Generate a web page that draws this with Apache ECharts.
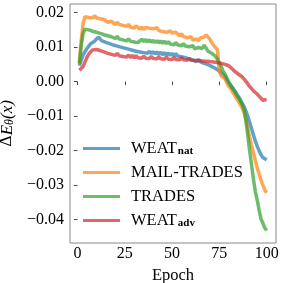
<!DOCTYPE html>
<html><head><meta charset="utf-8">
<script src="https://cdn.jsdelivr.net/npm/echarts@6/dist/echarts.min.js"></script>
<style>html,body{margin:0;padding:0;background:#fff}#c{width:282px;height:283px}</style>
</head><body><div id="c"></div>
<script>
const epochs = [1,2,3,4,5,6,7,8,9,10,11,12,13,14,15,16,17,18,19,20,21,22,23,24,25,26,27,28,29,30,31,32,33,34,35,36,37,38,39,40,41,42,43,44,45,46,47,48,49,50,51,52,53,54,55,56,57,58,59,60,61,62,63,64,65,66,67,68,69,70,71,72,73,74,75,76,77,78,79,80,81,82,83,84,85,86,87,88,89,90,91,92,93,94,95,96,97,98,99,100];
const weatNat = [0.0046,0.0062,0.0078,0.0087,0.0096,0.0103,0.0110,0.0106,0.0117,0.0121,0.0129,0.0124,0.0118,0.0123,0.0114,0.0119,0.0110,0.0114,0.0106,0.0111,0.0103,0.0108,0.0100,0.0105,0.0097,0.0102,0.0094,0.0099,0.0091,0.0096,0.0088,0.0093,0.0086,0.0091,0.0084,0.0089,0.0082,0.0088,0.0081,0.0087,0.0080,0.0086,0.0079,0.0085,0.0078,0.0084,0.0077,0.0083,0.0076,0.0082,0.0075,0.0081,0.0074,0.0079,0.0072,0.0077,0.0069,0.0074,0.0066,0.0071,0.0063,0.0067,0.0058,0.0064,0.0057,0.0061,0.0053,0.0056,0.0049,0.0050,0.0044,0.0046,0.0038,0.0037,0.0031,0.0026,0.0020,0.0014,0.0005,-0.0003,-0.0010,-0.0018,-0.0026,-0.0034,-0.0043,-0.0052,-0.0062,-0.0072,-0.0085,-0.0100,-0.0118,-0.0136,-0.0154,-0.0172,-0.0187,-0.0200,-0.0212,-0.0220,-0.0225,-0.0227];
const mailTrades = [0.0054,0.0120,0.0170,0.0188,0.0192,0.0186,0.0190,0.0184,0.0191,0.0185,0.0189,0.0182,0.0187,0.0180,0.0184,0.0172,0.0168,0.0175,0.0170,0.0165,0.0172,0.0166,0.0170,0.0163,0.0167,0.0160,0.0166,0.0158,0.0161,0.0155,0.0162,0.0157,0.0152,0.0158,0.0151,0.0157,0.0162,0.0155,0.0160,0.0153,0.0149,0.0156,0.0148,0.0153,0.0145,0.0150,0.0143,0.0139,0.0147,0.0141,0.0136,0.0143,0.0138,0.0132,0.0139,0.0131,0.0135,0.0127,0.0122,0.0130,0.0120,0.0116,0.0124,0.0118,0.0127,0.0132,0.0129,0.0135,0.0130,0.0123,0.0113,0.0105,0.0110,0.0092,0.0030,0.0016,0.0020,0.0008,-0.0004,-0.0014,-0.0020,-0.0030,-0.0038,-0.0048,-0.0057,-0.0066,-0.0076,-0.0088,-0.0108,-0.0134,-0.0160,-0.0184,-0.0206,-0.0228,-0.0250,-0.0268,-0.0285,-0.0300,-0.0314,-0.0322];
const trades = [0.0052,0.0105,0.0140,0.0152,0.0156,0.0150,0.0154,0.0146,0.0151,0.0143,0.0148,0.0140,0.0145,0.0136,0.0141,0.0133,0.0138,0.0130,0.0134,0.0125,0.0131,0.0124,0.0129,0.0121,0.0126,0.0118,0.0124,0.0117,0.0122,0.0115,0.0120,0.0113,0.0118,0.0123,0.0116,0.0122,0.0115,0.0121,0.0114,0.0120,0.0113,0.0119,0.0112,0.0118,0.0111,0.0117,0.0110,0.0116,0.0109,0.0114,0.0107,0.0113,0.0106,0.0111,0.0104,0.0110,0.0103,0.0108,0.0101,0.0096,0.0104,0.0095,0.0091,0.0099,0.0103,0.0096,0.0106,0.0097,0.0088,0.0090,0.0082,0.0080,0.0073,0.0064,0.0054,0.0044,0.0030,0.0022,0.0010,-0.0003,-0.0012,-0.0020,-0.0028,-0.0038,-0.0046,-0.0055,-0.0066,-0.0080,-0.0110,-0.0155,-0.0200,-0.0240,-0.0282,-0.0318,-0.0343,-0.0372,-0.0398,-0.0410,-0.0424,-0.0432];
const weatAdv = [0.0033,0.0036,0.0044,0.0057,0.0070,0.0080,0.0086,0.0092,0.0097,0.0093,0.0098,0.0090,0.0094,0.0086,0.0090,0.0082,0.0087,0.0079,0.0084,0.0076,0.0082,0.0075,0.0080,0.0073,0.0078,0.0071,0.0077,0.0070,0.0076,0.0069,0.0075,0.0069,0.0074,0.0068,0.0074,0.0068,0.0073,0.0067,0.0073,0.0067,0.0072,0.0066,0.0072,0.0066,0.0071,0.0065,0.0071,0.0065,0.0070,0.0064,0.0070,0.0064,0.0069,0.0063,0.0069,0.0063,0.0068,0.0062,0.0068,0.0062,0.0067,0.0061,0.0066,0.0061,0.0066,0.0060,0.0065,0.0059,0.0064,0.0058,0.0062,0.0057,0.0061,0.0055,0.0059,0.0053,0.0057,0.0050,0.0054,0.0046,0.0041,0.0036,0.0030,0.0027,0.0022,0.0017,0.0014,0.0008,0.0003,-0.0006,-0.0014,-0.0020,-0.0027,-0.0032,-0.0036,-0.0042,-0.0047,-0.0054,-0.0049,-0.0052];
const xTicks = [0,25,50,75,100];
const yTicks = [-0.04,-0.03,-0.02,-0.01,0.00,0.01,0.02];
const seriesNames = ['WEAT_nat','MAIL-TRADES','TRADES','WEAT_adv'];
const colors = ['#1f77b4','#ff7f0e','#2ca02c','#d62728'];
const allData = [weatNat, mailTrades, trades, weatAdv];

const FONT = 'Liberation Serif';
const chart = echarts.init(document.getElementById('c'), null, {renderer:'canvas'});
const fmtY = v => (Math.abs(v) < 1e-9 ? '0.00' : v.toFixed(2)).replace('-', '\u2212');
chart.setOption({
  animation:false,
  grid:{left:70, right:6, top:4, bottom:40, outerBoundsMode:'none', containLabel:false, show:true, borderColor:'#888', borderWidth:1, backgroundColor:'transparent'},
  xAxis:{type:'value', min:-3.95, max:104.95,
    name:'Epoch', nameLocation:'middle', nameGap:19,
    nameTextStyle:{fontFamily:FONT, fontSize:16.5, color:'#000'},
    axisLine:{show:false}, splitLine:{show:false},
    axisTick:{show:true, customValues:xTicks, length:3.5, lineStyle:{color:'#444'}},
    axisLabel:{customValues:xTicks, fontFamily:FONT, fontSize:16, color:'#000', margin:3}
  },
  yAxis:{type:'value', min:-0.0468, max:0.0225,
    name:'{d|\u0394}{e|E}{s|\u03b8}{e|(x)}', nameLocation:'middle', nameGap:51, nameRotate:90,
    nameTextStyle:{fontFamily:FONT, fontSize:17, color:'#000',
      rich:{d:{fontFamily:'DejaVu Serif', fontSize:16, color:'#000'}, e:{fontFamily:FONT, fontStyle:'italic', fontSize:17, color:'#000'}, s:{fontFamily:FONT, fontStyle:'italic', fontSize:12, color:'#000', verticalAlign:'bottom', padding:[6,0,0,0]}}},
    axisLine:{show:false}, splitLine:{show:false},
    axisTick:{show:true, customValues:yTicks, length:3.5, lineStyle:{color:'#444'}},
    axisLabel:{customValues:yTicks, fontFamily:FONT, fontSize:16, color:'#000', margin:6, formatter:fmtY}
  },
  legend:{show:true, orient:'vertical', left:83, top:140, padding:0, itemWidth:37, itemHeight:3, itemGap:7,
    icon:'rect',
    data:seriesNames,
    formatter:function(n){
      if(n==='WEAT_nat') return '{a|WEAT}{s|nat}';
      if(n==='WEAT_adv') return '{a|WEAT}{s|adv}';
      return '{a|'+n+'}';
    },
    textStyle:{fontFamily:FONT, fontSize:16.5, color:'#000', padding:[0,0,0,6],
      rich:{a:{fontFamily:FONT, fontSize:16.5, color:'#000', lineHeight:17}, s:{fontFamily:FONT, fontWeight:'bold', fontSize:11, color:'#000', verticalAlign:'bottom', padding:[6,0,0,1], lineHeight:17}}}
  },
  series: seriesNames.map((n,i)=>({
    name:n, type:'line', showSymbol:false, symbol:'none',
    data: epochs.map((e,j)=>[e, allData[i][j]]),
    lineStyle:{color:colors[i], width:3.5, opacity:0.7},
    itemStyle:{color:colors[i], opacity:0.7},
    z: 2+i
  }))
});
</script></body></html>
